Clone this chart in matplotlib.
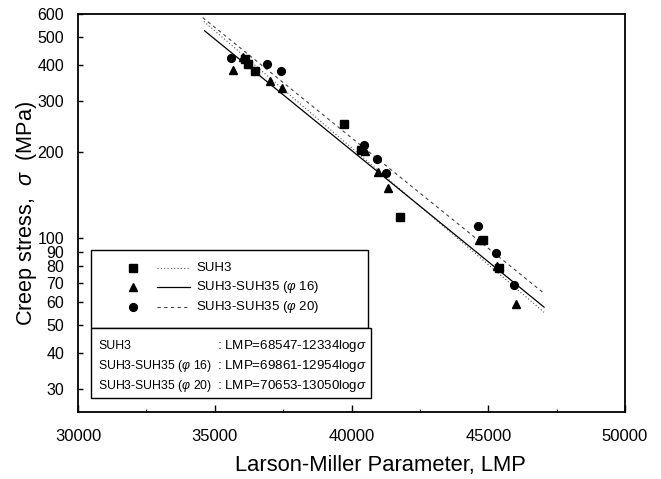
import numpy as np
import matplotlib
matplotlib.use("Agg")
import matplotlib.pyplot as plt
from matplotlib import font_manager
from matplotlib.lines import Line2D
from matplotlib.patches import Rectangle
from matplotlib.ticker import FixedLocator, FixedFormatter, MultipleLocator

plt.rcParams['font.family'] = ['Liberation Sans', 'DejaVu Sans']
plt.rcParams['mathtext.fontset'] = 'custom'
plt.rcParams['mathtext.it'] = 'Liberation Sans:italic'
plt.rcParams['mathtext.rm'] = 'Liberation Sans'

_names = {f.name for f in font_manager.fontManager.ttflist}
NARROW = 'Liberation Sans Narrow' if 'Liberation Sans Narrow' in _names else 'Liberation Sans'

# ---- data ----
suh3_lmp = [36100, 36216, 36486, 39709, 40355, 41779, 44790, 45400]
suh3_sig = [418, 402, 380, 250, 202, 119, 99, 79]

p16_lmp = [35668, 36050, 37008, 37472, 40476, 40987, 41326, 44670, 45330, 46024]
p16_sig = [384, 425, 352, 331, 201, 170, 150, 99, 80, 59]

p20_lmp = [35610, 36924, 37410, 40439, 40939, 41268, 44611, 45283, 45951]
p20_sig = [421, 402, 381, 210, 189, 169, 110, 89, 69]

# fit: LMP = A - B*log10(sigma)
fit_A = [68547, 69861, 70653]
fit_B = [12334, 12954, 13050]
fit_range = [(34600, 47040), (34630, 47040), (34560, 46980)]

series_names = ["SUH3", "SUH3-SUH35 ($\\varphi$ 16)", "SUH3-SUH35 ($\\varphi$ 20)"]
eq_labels = [": LMP=68547-12334log$\\sigma$", ": LMP=69861-12954log$\\sigma$",
             ": LMP=70653-13050log$\\sigma$"]

ytick_vals = [30, 40, 50, 60, 70, 80, 90, 100, 200, 300, 400, 500, 600]
xtick_vals = [30000, 35000, 40000, 45000, 50000]

W, H = 661, 479
fig = plt.figure(figsize=(W / 100, H / 100), dpi=100)
ax = fig.add_axes([78 / W, 1 - 412 / H, 547 / W, 398 / H])
ax.set_yscale('log')
ax.set_xlim(30000, 50000)
ax.set_ylim(25, 600)

markers = ['s', '^', 'o']
msizes = [5.2, 6.2, 5.6]
lstyles = [(0, (1, 2)), '-', (0, (3, 3))]
lcolors = ['#555555', 'black', '#444444']
lwidths = [0.8, 0.9, 0.8]
data = [(suh3_lmp, suh3_sig), (p16_lmp, p16_sig), (p20_lmp, p20_sig)]

for i in range(3):
    x, y = data[i]
    ax.plot(x, y, linestyle='none', marker=markers[i], ms=msizes[i],
            color='black', zorder=3)
    l0, l1 = fit_range[i]
    xx = np.linspace(l0, l1, 50)
    yy = 10 ** ((fit_A[i] - xx) / fit_B[i])
    ax.plot(xx, yy, linestyle=lstyles[i], color=lcolors[i], lw=lwidths[i], zorder=2)

ax.xaxis.set_major_locator(FixedLocator(xtick_vals))
ax.xaxis.set_minor_locator(MultipleLocator(2500))
ax.xaxis.set_major_formatter(FixedFormatter([str(v) for v in xtick_vals]))
ax.yaxis.set_major_locator(FixedLocator(ytick_vals))
ax.yaxis.set_major_formatter(FixedFormatter([str(v) for v in ytick_vals]))
ax.yaxis.set_minor_locator(FixedLocator([]))

ax.tick_params(axis='x', which='major', direction='in', length=5, width=1.0,
               labelsize=12, pad=12.5)
ax.tick_params(axis='x', which='minor', direction='in', length=2.5, width=0.8)
ax.tick_params(axis='y', which='major', direction='in', length=3.5, width=1.0,
               labelsize=11.5, pad=10)
for lab in ax.get_yticklabels():
    lab.set_fontfamily(NARROW)
ax.tick_params(top=False, right=False)
for s in ax.spines.values():
    s.set_linewidth(1.3)

ax.set_xlabel("Larson-Miller Parameter, LMP", fontsize=15.8)
ax.xaxis.set_label_coords((380 - 78) / 547, -(466 - 412) / 398)
ax.xaxis.label.set_va('center')
ax.set_ylabel("Creep stress,  $\\sigma$  (MPa)", fontsize=15.6)
ax.yaxis.set_label_coords(-(78 - 27) / 547, 0.5)
ax.yaxis.label.set_va('center')

# ---- legend boxes (pixel coords from top-left) ----
def fx(px):
    return px / W

def fy(py):
    return 1 - py / H

fig.add_artist(Rectangle((fx(91), fy(328)), fx(368) - fx(91), fy(250) - fy(328),
                         transform=fig.transFigure, fill=True, facecolor='white',
                         edgecolor='black', lw=1.0, zorder=5))
fig.add_artist(Rectangle((fx(91), fy(398)), fx(371) - fx(91), fy(328) - fy(398),
                         transform=fig.transFigure, fill=True, facecolor='white',
                         edgecolor='black', lw=1.0, zorder=5))

leg_rows = [268, 287, 307]
for i in range(3):
    yy = fy(leg_rows[i])
    fig.add_artist(Line2D([fx(133)], [yy], marker=markers[i], ms=msizes[i],
                          color='black', linestyle='none', zorder=6))
    fig.add_artist(Line2D([fx(157), fx(190)], [yy, yy], linestyle=lstyles[i],
                          color=lcolors[i], lw=lwidths[i], zorder=6))
    fig.text(fx(196), yy, series_names[i], fontsize=9.5, va='center', ha='left',
             zorder=7)

eq_rows = [346, 366, 386]
for i in range(3):
    yy = fy(eq_rows[i])
    fig.text(fx(98), yy, series_names[i], fontsize=8.8, va='center', ha='left', zorder=7)
    fig.text(fx(217), yy, eq_labels[i], fontsize=9.6, va='center', ha='left', zorder=7)

fig.savefig("out.png", dpi=100)
